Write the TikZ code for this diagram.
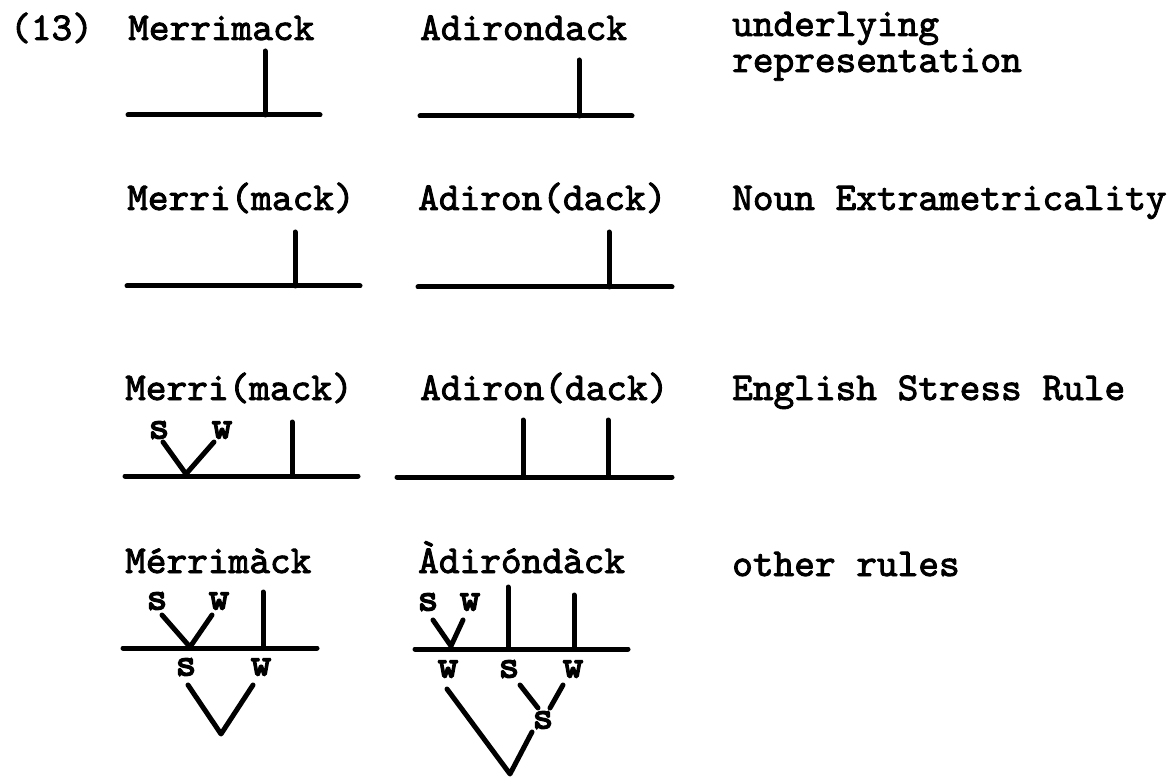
\documentclass[tikz,border=0pt]{standalone}
\usepackage{fontspec}
\newfontfamily\tw{lmmono10-regular.otf}[FakeBold=2.3]
\newfontfamily\twb{lmmono10-regular.otf}[FakeBold=3.8]
\tikzset{
  word/.style={anchor=base west, inner sep=0pt, font=\tw\fontsize{39.4}{32}\selectfont},
  lab/.style={anchor=center, inner sep=0pt, font=\twb\fontsize{39}{32}\selectfont},
  stroke/.style={line width=5pt, line cap=round, line join=round}
}
\begin{document}
\begin{tikzpicture}[x=1pt, y=-1pt]
\useasboundingbox (0,0) rectangle (1176,778);
% ---------- row 1 ----------
\node[word] (num) at (10,40) {(13)};
\node[word] (m1) at (128,40) {Merrimack};
\node[word] (a1) at (420,40) {Adirondack};
\node[word] (r1a) at (732,36) {underlying};
\node[word] (r1b) at (732,72) {representation};
\coordinate (m1L) at (128,115); \coordinate (m1R) at (320,115);
\coordinate (m1V) at (265,115); \coordinate (m1T) at (265,51);
\draw[stroke] (m1L) -- (m1R); \draw[stroke] (m1V) -- (m1T);
\coordinate (a1L) at (420,116); \coordinate (a1R) at (632,116);
\coordinate (a1V) at (579,116); \coordinate (a1T) at (579,60);
\draw[stroke] (a1L) -- (a1R); \draw[stroke] (a1V) -- (a1T);
% ---------- row 2 ----------
\node[word] (m2) at (127,210) {Merri(mack)};
\node[word] (a2) at (418,210) {Adiron(dack)};
\node[word] (r2) at (732,210) {Noun Extrametricality};
\coordinate (m2L) at (127,286); \coordinate (m2R) at (360,286);
\coordinate (m2V) at (295,286); \coordinate (m2T) at (295,232);
\draw[stroke] (m2L) -- (m2R); \draw[stroke] (m2V) -- (m2T);
\coordinate (a2L) at (418,287); \coordinate (a2R) at (672,287);
\coordinate (a2V) at (609,287); \coordinate (a2T) at (609,232);
\draw[stroke] (a2L) -- (a2R); \draw[stroke] (a2V) -- (a2T);
% ---------- row 3 ----------
\node[word] (m3) at (125,400) {Merri(mack)};
\node[word] (a3) at (420,400) {Adiron(dack)};
\node[word] (r3) at (732,400) {English Stress Rule};
\node[lab] (m3s) at (159,430) {s};
\node[lab] (m3w) at (222,430) {w};
\coordinate (m3L) at (125,476); \coordinate (m3R) at (358,476);
\coordinate (m3X) at (186,474);
\coordinate (m3V) at (292,476); \coordinate (m3T) at (292,422);
\draw[stroke] (m3L) -- (m3R); \draw[stroke] (m3V) -- (m3T);
\draw[stroke] ([shift={(4,12)}]m3s.center) -- (m3X) -- ([shift={(-8,12)}]m3w.center);
\coordinate (a3L) at (397,477); \coordinate (a3R) at (672,477);
\coordinate (a3V1) at (523,477); \coordinate (a3T1) at (523,420);
\coordinate (a3V2) at (608,477); \coordinate (a3T2) at (608,420);
\draw[stroke] (a3L) -- (a3R); \draw[stroke] (a3V1) -- (a3T1); \draw[stroke] (a3V2) -- (a3T2);
% ---------- row 4 ----------
\node[word] (m4) at (125,573) {Mérrimàck};
\node[word] (a4) at (418,573) {Àdiróndàck};
\node[word] (r4) at (732,576) {other rules};
\node[lab] (m4s) at (157,601) {s};
\node[lab] (m4w) at (219,601) {w};
\node[lab] (m4S) at (186,667) {s};
\node[lab] (m4W) at (261,667) {w};
\coordinate (m4L) at (123,648); \coordinate (m4R) at (317,648);
\coordinate (m4X) at (190,647);
\coordinate (m4V) at (263,648); \coordinate (m4T) at (263,592);
\coordinate (m4Y) at (221,734);
\draw[stroke] (m4L) -- (m4R); \draw[stroke] (m4V) -- (m4T);
\draw[stroke] ([shift={(5,14)}]m4s.center) -- (m4X) -- ([shift={(-7,14)}]m4w.center);
\draw[stroke] ([shift={(2,18)}]m4S.center) -- (m4Y) -- ([shift={(-8,18)}]m4W.center);
\node[lab] (a4s) at (428,602) {s};
\node[lab] (a4w) at (470,602) {w};
\node[lab] (a4W1) at (448,669) {w};
\node[lab] (a4S) at (509,669) {s};
\node[lab] (a4W2) at (573,669) {w};
\node[lab] (a4M) at (543,720) {s};
\coordinate (a4L) at (415,649); \coordinate (a4R) at (628,649);
\coordinate (a4X) at (451,646);
\coordinate (a4V1) at (508,649); \coordinate (a4T1) at (508,587);
\coordinate (a4V2) at (574,649); \coordinate (a4T2) at (574,595);
\coordinate (a4Y) at (510,774);
\draw[stroke] (a4L) -- (a4R); \draw[stroke] (a4V1) -- (a4T1); \draw[stroke] (a4V2) -- (a4T2);
\draw[stroke] ([shift={(5,18)}]a4s.center) -- (a4X) -- ([shift={(-7,18)}]a4w.center);
\draw[stroke] ([shift={(11,16)}]a4S.center) -- ([shift={(-5,-12)}]a4M.center);
\draw[stroke] ([shift={(-10,16)}]a4W2.center) -- ([shift={(7,-12)}]a4M.center);
\draw[stroke] ([shift={(-1,20)}]a4W1.center) -- (a4Y) -- ([shift={(-11,12)}]a4M.center);
\end{tikzpicture}
\end{document}
